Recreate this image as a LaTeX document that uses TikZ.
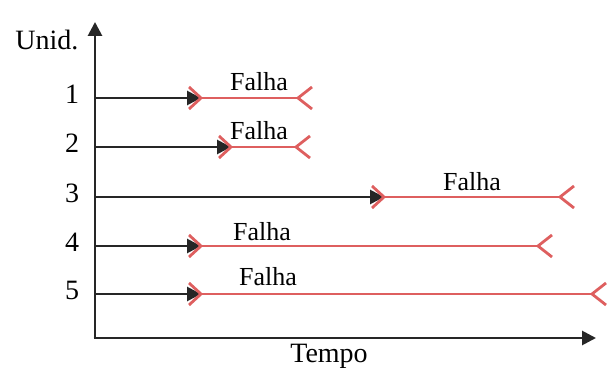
\documentclass[tikz,border=0pt]{standalone}
\usepackage{fontspec}
\setmainfont{Liberation Serif}
\usetikzlibrary{arrows.meta}
\definecolor{failred}{RGB}{222,95,95}
\tikzset{
  axisline/.style={line width=2.8pt, draw=black!85, -{Triangle[length=14pt,width=14pt]}},
  runline/.style={line width=2.8pt, draw=black!85, -{Triangle[length=14pt,width=14pt]}},
  redline/.style={line width=2.8pt, draw=failred},
  lbl/.style={inner sep=0pt, font=\fontsize{28}{30}\selectfont},
  fail/.style={inner sep=0pt, font=\fontsize{26}{28}\selectfont},
}
\begin{document}
\begin{tikzpicture}[x=1pt,y=-1pt]
\useasboundingbox (0,0) rectangle (611,371);
% axes
\coordinate (O) at (95,338);
\coordinate (ytop) at (95,22);
\coordinate (xend) at (596,338);
\draw[axisline] (O) -- (ytop);
\draw[axisline] ([xshift=-1.4pt]O) -- (xend);
\node[lbl] (unid) at (47,40) {Unid.};
\node[lbl] (tempo) at (329,356) {Tempo};
% rows: y, arrow tip, end vertex
\foreach \i/\y/\t/\e/\fx/\fy in {1/98/201/298/259/82, 2/147/231/296/259/131, 3/197/384/560/472/182, 4/246/201/538/262/232, 5/294/201/592/268/277}{
  \coordinate (s\i) at (95,\y);
  \coordinate (m\i) at (\t,\y);
  \coordinate (e\i) at (\e,\y);
  \node[lbl] (n\i) at (72,\y-4) {\i};
  \node[fail] (f\i) at (\fx,\fy) {Falha};
  \draw[runline] (s\i) -- (m\i);
  \draw[redline] (m\i) -- (e\i);
  \draw[redline] ([shift={(-12,-11)}]m\i) -- (m\i) -- ([shift={(-12,11)}]m\i);
  \draw[redline] ([shift={(14,-11)}]e\i) -- (e\i) -- ([shift={(14,11)}]e\i);
}
\end{tikzpicture}
\end{document}
